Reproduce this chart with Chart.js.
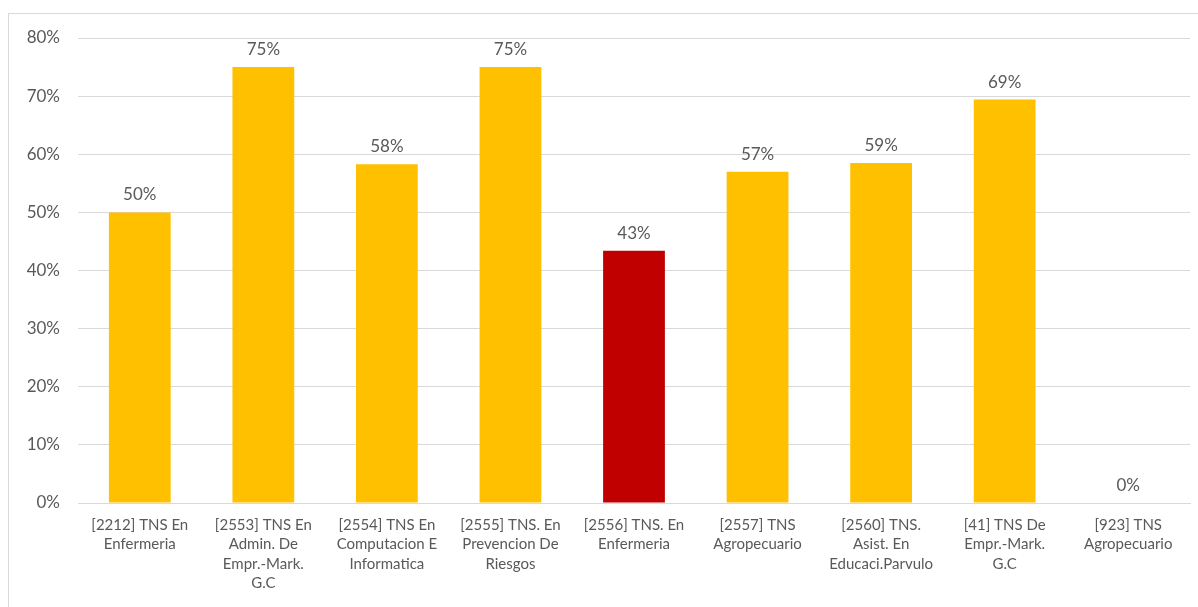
<!DOCTYPE html>
<html>
<head>
<meta charset="utf-8">
<script src="https://cdn.jsdelivr.net/npm/chart.js@4"></script>
<style>
  body { margin: 0; background: #fff; }
  #frame { position: absolute; left: 8px; top: 13px; width: 1200px; height: 600px; border: 1px solid #d9d9d9; }
  #wrap { position: absolute; left: 0; top: 0; width: 1198px; height: 607px; }
</style>
</head>
<body>
<div id="frame"></div>
<div id="wrap"><canvas id="chart"></canvas></div>
<script>
const categories = [
  ['[2212] TNS En', 'Enfermeria'],
  ['[2553] TNS En', 'Admin. De', 'Empr.-Mark.', 'G.C'],
  ['[2554] TNS En', 'Computacion E', 'Informatica'],
  ['[2555] TNS. En', 'Prevencion De', 'Riesgos'],
  ['[2556] TNS. En', 'Enfermeria'],
  ['[2557] TNS', 'Agropecuario'],
  ['[2560] TNS.', 'Asist. En', 'Educaci.Parvulo'],
  ['[41] TNS De', 'Empr.-Mark.', 'G.C'],
  ['[923] TNS', 'Agropecuario']
];
const values = [50, 75, 58.3, 75, 43.4, 57, 58.5, 69.4, 0];
const barColors = ['#FFC000', '#FFC000', '#FFC000', '#FFC000', '#C00000', '#FFC000', '#FFC000', '#FFC000', '#FFC000'];
const yTicks = [0, 10, 20, 30, 40, 50, 60, 70, 80];

const fontFamily = 'Lato, "Open Sans", sans-serif';

// labels over the bars
const valueLabels = {
  id: 'valueLabels',
  afterDatasetsDraw(chart) {
    const ctx = chart.ctx;
    const meta = chart.getDatasetMeta(0);
    ctx.save();
    ctx.fillStyle = '#595959';
    ctx.font = '17px ' + fontFamily;
    ctx.textAlign = 'center';
    ctx.textBaseline = 'bottom';
    meta.data.forEach(function(bar, i) {
      ctx.fillText(Math.round(values[i]) + '%', bar.x, bar.y - 9);
    });
    ctx.restore();
  }
};

const ctx = document.getElementById('chart').getContext('2d');
new Chart(ctx, {
  type: 'bar',
  data: {
    labels: categories,
    datasets: [{
      data: values,
      backgroundColor: barColors,
      categoryPercentage: 1,
      barPercentage: 0.5
    }]
  },
  options: {
    responsive: true,
    maintainAspectRatio: false,
    animation: false,
    layout: { padding: { top: 38, right: 8, left: 0, bottom: 0 } },
    plugins: {
      legend: { display: false },
      tooltip: { enabled: false }
    },
    scales: {
      x: {
        grid: { display: false, drawTicks: false },
        border: { display: true, color: '#d9d9d9', width: 1 },
        ticks: {
          color: '#595959',
          font: { family: fontFamily, size: 15, lineHeight: 1.3 },
          maxRotation: 0,
          autoSkip: false,
          padding: 12
        },
        afterFit(scale) { scale.height = 104; }
      },
      y: {
        min: 0,
        max: 80,
        afterBuildTicks(scale) { scale.ticks = yTicks.map(v => ({ value: v })); },
        grid: { color: '#d9d9d9', drawTicks: false },
        border: { display: false },
        ticks: {
          color: '#595959',
          font: { family: fontFamily, size: 17 },
          padding: 18,
          callback: v => v + '%'
        },
        afterFit(scale) { scale.width = 78; }
      }
    }
  },
  plugins: [valueLabels]
});
</script>
</body>
</html>
